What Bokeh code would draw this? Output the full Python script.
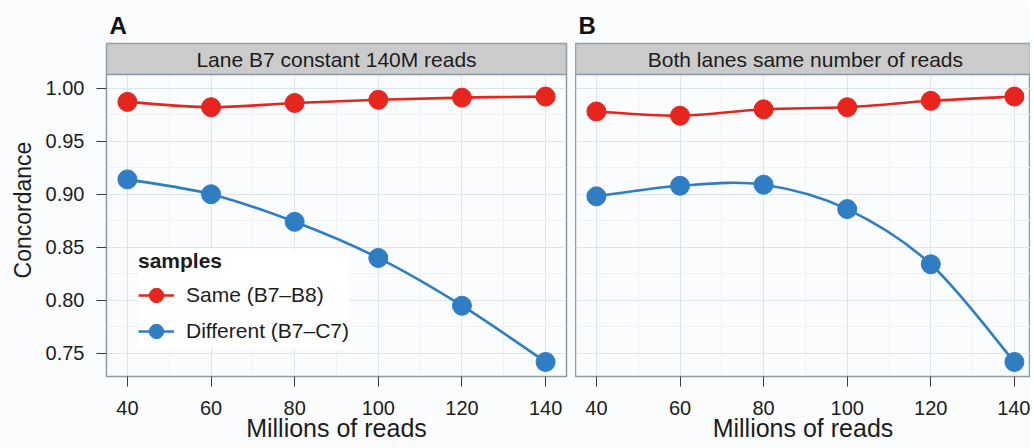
import numpy as np
from bokeh.plotting import figure
from bokeh.layouts import row
from bokeh.models import (FixedTicker, NumeralTickFormatter, Label, Legend,
                          LegendItem, Grid)
from bokeh.embed import file_html
from bokeh.resources import INLINE

# ---------------- data ----------------
reads = [40, 60, 80, 100, 120, 140]
a_same = [0.987, 0.982, 0.986, 0.989, 0.991, 0.992]
a_diff = [0.914, 0.900, 0.874, 0.840, 0.795, 0.742]
b_same = [0.978, 0.974, 0.980, 0.982, 0.988, 0.992]
b_diff = [0.898, 0.908, 0.909, 0.886, 0.834, 0.742]
x_ticks = [40, 60, 80, 100, 120, 140]
x_minor = [50, 70, 90, 110, 130]
y_ticks = [0.75, 0.80, 0.85, 0.90, 0.95, 1.00]
y_minor = [0.775, 0.825, 0.875, 0.925, 0.975]
panel_titles = ["Lane B7 constant 140M reads", "Both lanes same number of reads"]
panel_letters = ["A", "B"]
series_names = ["Same (B7\u2013B8)", "Different (B7\u2013C7)"]
x_title = "Millions of reads"
y_title = "Concordance"

# ---------------- style ----------------
FONT = "Liberation Sans"
RED = "#E5251E"
BLUE = "#2F7DC2"
BG = "#fbfcfd"
FRAME = "#8b9aa4"
STRIP = "#cbcbcb"
GRID = "#dde5ec"
MINOR = "#eef2f6"
TXT = "#1c1c1c"

H = 448
Y0, Y1 = 0.7283, 1.0127     # data area
STRIP_TOP = 1.0420          # strip drawn above the data area
XA = (35, 145)
XB = (35, 143.85)


def bezier_parts(xs, ys):
    x = np.asarray(xs, float)
    y = np.asarray(ys, float)
    n = len(x)
    xp = np.concatenate([[x[0]], x, [x[-1]]])
    yp = np.concatenate([[y[0]], y, [y[-1]]])
    return dict(
        x0=x[:-1], y0=y[:-1], x1=x[1:], y1=y[1:],
        cx0=x[:-1] + (xp[2:n + 1] - xp[0:n - 1]) / 6.0,
        cy0=y[:-1] + (yp[2:n + 1] - yp[0:n - 1]) / 6.0,
        cx1=x[1:] - (xp[3:n + 2] - xp[1:n]) / 6.0,
        cy1=y[1:] - (yp[3:n + 2] - yp[1:n]) / 6.0,
    )


def make_panel(idx, same, diff, xr, width, left, right, with_yaxis):
    p = figure(width=width, height=H, x_range=xr, y_range=(Y0, STRIP_TOP),
               output_backend="svg", toolbar_location=None,
               y_axis_location="left" if with_yaxis else None,
               min_border_left=left, min_border_right=right,
               min_border_top=43, min_border_bottom=H - 376)
    p.background_fill_color = BG
    p.border_fill_color = BG
    p.outline_line_color = FRAME
    p.outline_line_width = 1.5

    # panel letter as title
    p.title.text = panel_letters[idx]
    p.title.align = "left"
    p.title.offset = 3
    p.title.standoff = 10
    p.title.text_font = FONT
    p.title.text_font_style = "bold"
    p.title.text_font_size = "24px"
    p.title.text_color = "#111111"

    # grids
    p.xgrid.ticker = FixedTicker(ticks=x_ticks, minor_ticks=x_minor)
    p.xgrid.grid_line_color = GRID
    p.xgrid.minor_grid_line_color = MINOR
    if with_yaxis:
        p.ygrid.ticker = FixedTicker(ticks=y_ticks, minor_ticks=y_minor)
        yg = p.ygrid
    else:
        yg = Grid(dimension=1, ticker=FixedTicker(ticks=y_ticks, minor_ticks=y_minor))
        p.add_layout(yg)
    yg.grid_line_color = GRID
    yg.minor_grid_line_color = MINOR

    # x axis
    ax = p.xaxis[0]
    ax.ticker = FixedTicker(ticks=x_ticks)
    ax.axis_line_color = None
    ax.major_tick_out = 10
    ax.major_tick_in = 0
    ax.major_tick_line_color = "#3a3a3a"
    ax.minor_tick_line_color = None
    ax.major_label_text_font = FONT
    ax.major_label_text_font_size = "20px"
    ax.major_label_text_color = TXT
    ax.major_label_standoff = 14
    ax.axis_label = x_title
    ax.axis_label_standoff = -4
    ax.axis_label_text_font = FONT
    ax.axis_label_text_font_size = "25px"
    ax.axis_label_text_font_style = "normal"
    ax.axis_label_text_color = TXT

    if with_yaxis:
        ay = p.yaxis[0]
        ay.ticker = FixedTicker(ticks=y_ticks)
        ay.formatter = NumeralTickFormatter(format="0.00")
        ay.axis_line_color = None
        ay.major_tick_out = 10
        ay.major_tick_in = 0
        ay.major_tick_line_color = "#3a3a3a"
        ay.minor_tick_line_color = None
        ay.major_label_text_font = FONT
        ay.major_label_text_font_size = "20px"
        ay.major_label_text_color = TXT
        ay.major_label_standoff = 12
        ay.axis_label = y_title
        ay.axis_label_standoff = 7
        ay.axis_label_text_font = FONT
        ay.axis_label_text_font_size = "23px"
        ay.axis_label_text_font_style = "normal"
        ay.axis_label_text_color = TXT

    # strip
    p.quad(left=xr[0], right=xr[1], bottom=Y1, top=STRIP_TOP,
           fill_color=STRIP, line_color=FRAME, line_width=1.5)
    p.add_layout(Label(x=90, y=(Y1 + STRIP_TOP) / 2, text=panel_titles[idx],
                       text_align="center", text_baseline="middle",
                       text_font=FONT, text_font_size="21px", text_color=TXT))

    rends = []
    for ys, col in ((same, RED), (diff, BLUE)):
        bl = p.bezier(line_color=col, line_width=2.6, **bezier_parts(reads, ys))
        sc = p.scatter(reads, ys, size=19, color=col, line_color=col)
        rends.append([bl, sc])
    return p, rends


pA, rA = make_panel(0, a_same, a_diff, XA, 575, 106, 9, True)
pB, rB = make_panel(1, b_same, b_diff, XB, 455, 0, 0, False)

legend = Legend(items=[LegendItem(label=series_names[0], renderers=rA[0]),
                       LegendItem(label=series_names[1], renderers=rA[1])],
                location=(32, 27), title="samples",
                title_text_font=FONT, title_text_font_size="21px",
                title_text_font_style="bold", title_text_color=TXT,
                title_standoff=4,
                label_text_font=FONT, label_text_font_size="21px",
                label_text_color=TXT,
                glyph_width=36, glyph_height=36, label_height=36,
                label_standoff=12, spacing=0, padding=6, margin=0,
                border_line_color=None, background_fill_color="white",
                background_fill_alpha=0.95)
pA.add_layout(legend)

layout = row(pA, pB)
open("out.html", "w").write(file_html(layout, INLINE))
